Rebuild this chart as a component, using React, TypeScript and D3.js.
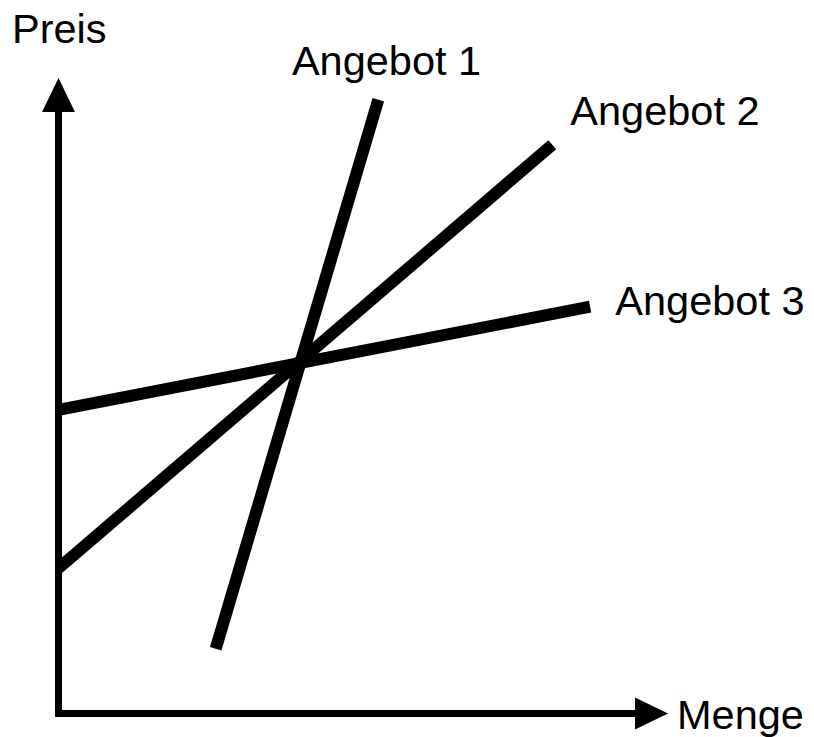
import * as d3 from "d3";

const W = 814;
const H = 737;

// supply curves in (Menge, Preis) units
const SERIES = ["Angebot 1", "Angebot 2", "Angebot 3"];
const MENGE = [
  [2.62, 5.33],
  [0, 8.23],
  [0, 8.86],
];
const PREIS = [
  [1.08, 10.23],
  [2.42, 9.48],
  [5.06, 6.78],
];
// label anchor positions in the same units
const LABEL_X = [3.89, 8.53, 9.28];
const LABEL_Y = [10.64, 9.81, 6.64];

const AXIS_X = "Menge";
const AXIS_Y = "Preis";

const FONT = "'Liberation Sans', Arial, Helvetica, sans-serif";

export default function App() {
  const x = d3.scaleLinear().domain([0, 10]).range([58.5, 658.5]);
  const y = d3.scaleLinear().domain([0, 10]).range([713.5, 113.5]);

  const line = d3
    .line<[number, number]>()
    .x((d) => x(d[0]))
    .y((d) => y(d[1]));

  const x0 = x(0);
  const y0 = y(0);

  return (
    <svg
      width={W}
      height={H}
      viewBox={`0 0 ${W} ${H}`}
      style={{ position: "absolute", left: 0, top: 0, background: "#fff" }}
    >
      {/* axes */}
      <line x1={x0} y1={y0 + 3.5} x2={x0} y2={112} stroke="#000" strokeWidth={7} />
      <path d={`M${x0},78 L${x0 - 16.5},112 L${x0 + 16.5},112 Z`} fill="#000" />
      <line x1={x0 - 3.5} y1={y0} x2={636} y2={y0} stroke="#000" strokeWidth={7} />
      <path d={`M668,${y0} L635,${y0 - 16} L635,${y0 + 16} Z`} fill="#000" />

      {SERIES.map((s, i) => (
        <path
          key={s}
          d={line([
            [MENGE[i][0], PREIS[i][0]],
            [MENGE[i][1], PREIS[i][1]],
          ]) ?? ""}
          stroke="#000"
          strokeWidth={12}
          fill="none"
          strokeLinecap="butt"
        />
      ))}

      {SERIES.map((s, i) => (
        <text
          key={s}
          x={x(LABEL_X[i])}
          y={y(LABEL_Y[i])}
          style={{ fontFamily: FONT, fontSize: 41.5 }}
          fill="#000"
        >
          {s}
        </text>
      ))}

      <text x={12} y={43} style={{ fontFamily: FONT, fontSize: 41.5 }} fill="#000">
        {AXIS_Y}
      </text>
      <text x={677} y={729} style={{ fontFamily: FONT, fontSize: 41.5 }} fill="#000">
        {AXIS_X}
      </text>
    </svg>
  );
}
